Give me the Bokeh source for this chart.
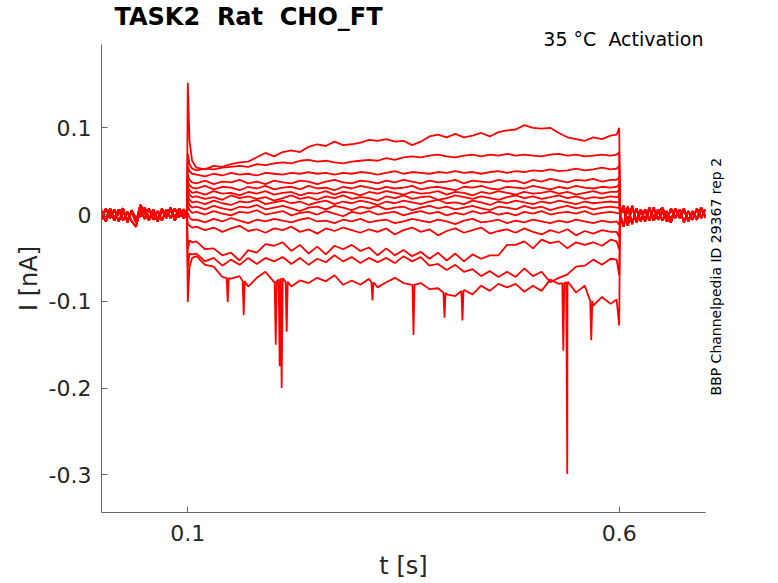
import numpy as np
from bokeh.plotting import figure
from bokeh.models import Range1d, FixedTicker, LinearAxis, Title, ColumnDataSource
from bokeh.embed import file_html
from bokeh.resources import INLINE

# time bases [s]
pre_t = np.round(np.arange(0.0, 0.0951, 0.005), 3)
on_t = [0.099, 0.100, 0.102, 0.105]
step_t = np.round(np.arange(0.11, 0.5951, 0.01), 2)
off_t = [0.597, 0.600, 0.601]
post_t = np.round(np.arange(0.605, 0.7001, 0.005), 3)

# holding current before / after the pulse (three recordings' worth) [nA]
pre_a = [.005, -.006, .007, -.004, .006, -.007, .003, -.008, -.014, .006,
         -.005, .007, -.006, .004, -.007, .006, -.004, .007, -.003, .006]
pre_b = [-.006, .007, -.004, .006, -.008, .004, -.006, .003, -.009, .011,
         .002, -.007, .006, -.006, .007, -.004, .006, -.007, .004, -.004]
pre_c = [.002, -.008, .004, -.007, .002, .007, -.009, .005, -.005, -.002,
         .008, -.004, .002, -.008, .004, -.002, .008, -.004, .007, .000]
post_a = [.010, -.009, .008, -.007, .006, -.008, .007, -.004, .006, -.007,
          .004, -.006, .007, -.004, .006, -.007, .004, -.006, .007, -.004]
post_b = [-.014, .009, -.011, .007, -.008, .006, -.007, .008, -.006, .004,
          -.008, .007, -.004, .006, -.009, .004, -.006, .007, -.004, .006]
post_c = [.007, -.013, .010, -.009, .004, -.006, .008, -.007, .002, .008,
          -.004, -.009, .006, -.002, .007, -.008, .002, -.004, .008, -.002]

# current during the step, 0.11 .. 0.59 s [nA]
i1 = [.054, .052, .056, .055, .058, .060, .061, .066, .071, .067,
      .072, .074, .072, .078, .081, .079, .084, .080, .081, .083,
      .086, .085, .087, .084, .085, .080, .084, .090, .092, .089,
      .093, .089, .091, .094, .090, .095, .097, .098, .103, .100,
      .099, .100, .094, .089, .087, .085, .089, .087, .091]
i2 = [.051, .053, .052, .054, .055, .056, .055, .058, .057, .059,
      .060, .059, .062, .063, .061, .062, .060, .059, .061, .062,
      .063, .062, .065, .063, .066, .067, .066, .068, .069, .067,
      .066, .068, .069, .067, .069, .068, .070, .068, .069, .068,
      .067, .069, .070, .068, .069, .067, .068, .069, .068]
i3 = [.046, .044, .047, .045, .048, .046, .047, .045, .048, .047,
      .046, .048, .047, .049, .047, .048, .046, .048, .047, .049,
      .048, .046, .048, .050, .047, .049, .048, .047, .049, .048,
      .050, .048, .049, .047, .049, .050, .048, .050, .049, .051,
      .050, .052, .050, .051, .053, .051, .052, .054, .052]
i4 = [.036, .039, .035, .038, .037, .040, .036, .038, .035, .039,
      .037, .036, .039, .038, .035, .038, .040, .037, .036, .039,
      .038, .036, .039, .037, .040, .038, .036, .039, .037, .038,
      .040, .036, .039, .038, .037, .040, .038, .039, .036, .040,
      .038, .041, .039, .037, .040, .039, .041, .038, .040]
i5 = [.030, .033, .029, .032, .031, .028, .032, .030, .033, .029,
      .031, .032, .029, .033, .030, .031, .028, .032, .030, .033,
      .031, .029, .032, .030, .031, .033, .029, .031, .032, .030,
      .028, .032, .031, .033, .030, .029, .032, .031, .030, .033,
      .031, .029, .032, .030, .033, .031, .030, .032, .031]
i6 = [.026, .023, .027, .024, .025, .022, .026, .024, .027, .023,
      .025, .026, .022, .025, .024, .027, .023, .026, .025, .022,
      .026, .024, .027, .025, .023, .026, .024, .025, .027, .023,
      .026, .025, .022, .026, .024, .027, .025, .023, .026, .024,
      .025, .027, .024, .026, .023, .025, .027, .024, .026]
i7 = [.021, .018, .020, .017, .022, .019, .021, .018, .020, .016,
      .019, .022, .018, .020, .017, .021, .019, .022, .018, .020,
      .019, .016, .021, .019, .022, .018, .020, .021, .017, .019,
      .022, .020, .018, .021, .019, .017, .020, .022, .019, .021,
      .018, .020, .022, .019, .021, .018, .020, .019, .021]
i8 = [.015, .012, .016, .013, .011, .015, .014, .017, .012, .014,
      .016, .013, .015, .011, .014, .016, .012, .015, .013, .016,
      .014, .011, .015, .013, .016, .014, .012, .015, .017, .013,
      .014, .012, .016, .014, .011, .015, .013, .016, .014, .012,
      .015, .013, .016, .014, .012, .015, .013, .014, .015]
i9 = [.009, .006, .010, .007, .005, .009, .008, .011, .006, .008,
      .010, .007, .004, .008, .009, .006, .010, .008, .005, .009,
      .007, .010, .006, .008, .009, .005, .008, .010, .007, .009,
      .006, .008, .010, .007, .005, .009, .008, .006, .010, .007,
      .009, .005, .008, .010, .007, .009, .006, .008, .009]
i10 = [.003, .000, .004, .001, -.001, .003, .002, .005, .000, .002,
       .004, -.001, .002, .003, .000, .004, .001, -.002, .003, .001,
       .004, .000, .002, .003, -.001, .002, .004, .001, .003, -.001,
       .002, .000, .004, .001, .003, .000, .002, -.001, .003, .001,
       .004, .000, .002, .003, .001, .004, .000, .002, .003]
i11 = [-.006, -.009, -.005, -.008, -.004, -.007, -.010, -.006, -.008, -.005,
       -.007, -.009, -.006, -.004, -.008, -.007, -.010, -.006, -.008, -.005,
       -.009, -.007, -.006, -.010, -.008, -.005, -.007, -.009, -.006, -.008,
       -.011, -.007, -.005, -.009, -.008, -.006, -.010, -.007, -.009, -.006,
       -.008, -.010, -.007, -.009, -.006, -.008, -.010, -.007, -.009]
i12 = [-.014, -.018, -.015, -.020, -.016, -.013, -.019, -.017, -.021, -.016,
       -.018, -.014, -.020, -.017, -.022, -.016, -.019, -.015, -.018, -.021,
       -.017, -.020, -.016, -.023, -.018, -.015, -.020, -.017, -.024, -.019,
       -.016, -.021, -.018, -.015, -.022, -.019, -.017, -.021, -.016, -.020,
       -.023, -.018, -.021, -.017, -.024, -.019, -.022, -.018, -.020]
i13 = [-.031, -.040, -.039, -.047, -.044, -.053, -.041, -.044, -.034, -.036,
       -.032, -.042, -.035, -.045, -.037, -.046, -.036, -.040, -.035, -.042,
       -.038, -.047, -.039, -.047, -.041, -.048, -.043, -.051, -.044, -.053,
       -.045, -.054, -.046, -.051, -.047, -.047, -.035, -.035, -.031, -.039,
       -.029, -.033, -.031, -.039, -.032, -.035, -.032, -.036, -.029]
i14 = [-.045, -.054, -.050, -.059, -.052, -.058, -.050, -.057, -.050, -.054,
       -.049, -.057, -.050, -.058, -.051, -.055, -.047, -.054, -.049, -.056,
       -.050, -.055, -.050, -.056, -.048, -.054, -.049, -.059, -.057, -.064,
       -.058, -.066, -.063, -.071, -.065, -.072, -.066, -.072, -.062, -.071,
       -.066, -.078, -.073, -.069, -.060, -.059, -.052, -.058, -.051]
i15 = [-.048, -.058, -.060, -.072, -.074, -.071, -.083, -.073, -.066, -.078,
       -.073, -.083, -.076, -.079, -.073, -.077, -.070, -.081, -.076, -.081,
       -.074, -.084, -.078, -.073, -.079, -.081, -.079, -.086, -.085, -.092,
       -.094, -.087, -.092, -.082, -.088, -.080, -.084, -.080, -.089, -.082,
       -.088, -.075, -.080, -.078, -.090, -.082, -.105, -.095, -.103]

# capacitive transients at step on (0.099..0.105 s) and off (0.597..0.601 s)
onsets = [[0, .152, .085, .062], [0, .070, .058, .053], [0, .055, .050, .047],
          [0, .045, .040, .037], [0, .038, .034, .031], [0, .032, .028, .025],
          [0, .028, .023, .020], [0, .022, .017, .014], [0, .016, .011, .008],
          [0, .010, .005, .002], [0, .002, -.004, -.006], [0, -.010, -.013, -.015],
          [0, -.040, -.030, -.032], [0, -.060, -.045, -.046], [0, -.101, -.060, -.050]]
offsets = [[.092, .100, 0], [.069, .072, 0], [.053, .056, 0], [.040, .043, 0],
           [.032, .035, 0], [.026, .028, 0], [.020, .022, 0], [.014, .015, 0],
           [.008, .008, 0], [.002, .001, 0], [-.008, -.012, 0], [-.020, -.026, 0],
           [-.031, -.040, 0], [-.052, -.070, 0], [-.098, -.128, 0]]

# fast inward events on the most negative sweep
event_t = [0.1463, 0.1648, 0.2019, 0.2065, 0.2088, 0.2146, 0.314,
           0.3616, 0.3975, 0.4183, 0.5352, 0.5398, 0.5676]
event_i = [-0.101, -0.116, -0.150, -0.175, -0.200, -0.135, -0.099,
           -0.139, -0.119, -0.122, -0.157, -0.299, -0.145]

steps = [i1, i2, i3, i4, i5, i6, i7, i8, i9, i10, i11, i12, i13, i14, i15]
pres = [pre_a, pre_b, pre_c]
posts = [post_a, post_b, post_c]

xs, ys = [], []
for k, sweep in enumerate(steps):
    t = np.concatenate([pre_t, on_t, step_t, off_t, post_t])
    v = np.concatenate([pres[k % 3], onsets[k], sweep, offsets[k], posts[k % 3]])
    if k == len(steps) - 1:
        # narrow events: shoulders sit on the sweep itself
        base = np.interp(event_t, t, v)
        et = np.concatenate([np.array(event_t) - 0.0012, event_t, np.array(event_t) + 0.0012])
        ev = np.concatenate([base, event_i, base])
        t = np.concatenate([t, et])
        v = np.concatenate([v, ev])
        order = np.argsort(t, kind="stable")
        t, v = t[order], v[order]
    xs.append(list(t))
    ys.append(list(v))

y_lo, y_hi = -0.3435, 0.196

p = figure(width=770, height=583, x_range=Range1d(0, 0.7), y_range=Range1d(y_lo, y_hi),
           title="TASK2\u00a0 Rat\u00a0 CHO_FT", output_backend="svg",
           toolbar_location=None, tools="",
           min_border_left=101, min_border_right=65, min_border_top=44, min_border_bottom=71)

p.multi_line(xs="xs", ys="ys", source=ColumnDataSource(dict(xs=xs, ys=ys)),
             line_color="#ff0000", line_width=1.8)

p.title.text_font = "DejaVu Sans"
p.title.text_font_size = "24px"
p.title.text_font_style = "bold"
p.title.text_color = "black"
p.title.align = "left"
p.title.offset = 13
p.title.standoff = 0

sub = Title(text="35 °C\u00a0 Activation", align="right", offset=2, standoff=-10,
            text_font="DejaVu Sans", text_font_size="19px", text_font_style="normal",
            text_color="black")
p.add_layout(sub, "above")

p.xaxis.ticker = FixedTicker(ticks=[0.1, 0.6])
p.xaxis.major_label_overrides = {0.1: "0.1", 0.6: "0.6"}
p.yaxis.ticker = FixedTicker(ticks=[-0.3, -0.2, -0.1, 0, 0.1])
p.yaxis.major_label_overrides = {-0.3: "-0.3", -0.2: "-0.2", -0.1: "-0.1", 0: "0", 0.1: "0.1"}
p.xaxis.axis_label = "t [s]"
p.yaxis.axis_label = "I [nA]"

for ax in (p.xaxis[0], p.yaxis[0]):
    ax.axis_line_color = "#666666"
    ax.major_tick_line_color = "#666666"
    ax.major_tick_in = 6
    ax.major_tick_out = 0
    ax.minor_tick_line_color = None
    ax.major_label_text_font = "DejaVu Sans"
    ax.major_label_text_font_size = "22px"
    ax.major_label_text_color = "#262626"
    ax.axis_label_text_font = "DejaVu Sans"
    ax.axis_label_text_font_size = "24px"
    ax.axis_label_text_font_style = "normal"
    ax.axis_label_text_color = "#262626"
p.xaxis.major_label_standoff = 12
p.xaxis.axis_label_standoff = 8
p.yaxis.major_label_standoff = 10
p.yaxis.axis_label_standoff = 3

# source note on the right, as a lone tick label (anchored at its lower end)
note_y = -0.2086
note = LinearAxis(ticker=FixedTicker(ticks=[note_y]),
                  major_label_overrides={note_y: "BBP Channelpedia ID 29367 rep 2"},
                  major_label_orientation=np.pi / 2, major_label_standoff=5,
                  major_label_text_font="DejaVu Sans", major_label_text_font_size="14px",
                  major_label_text_color="black", axis_line_color=None,
                  major_tick_line_color=None, minor_tick_line_color=None)
p.add_layout(note, "right")

p.xgrid.visible = False
p.ygrid.visible = False
p.outline_line_color = None

open("out.html", "w").write(file_html(p, INLINE))
